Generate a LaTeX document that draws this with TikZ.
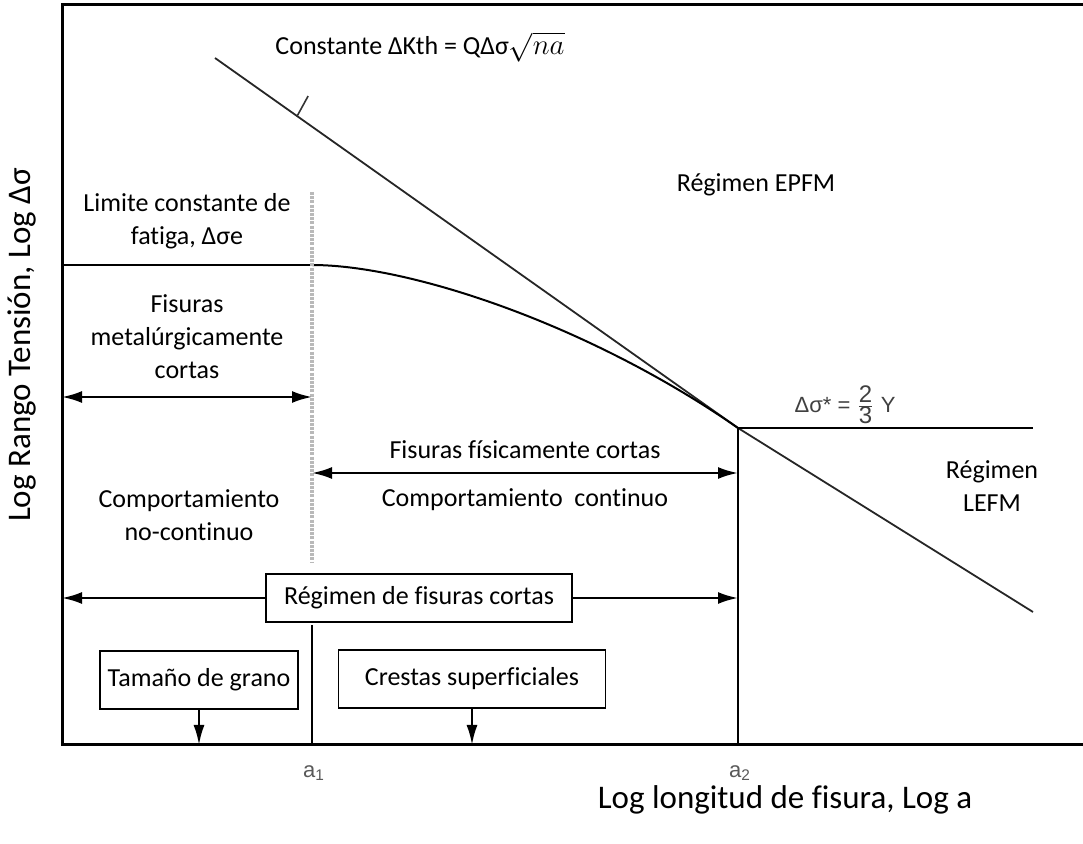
\documentclass[tikz,border=0pt]{standalone}
\usepackage{fontspec}
\setmainfont{Carlito}[Ligatures=NoCommon]
\newfontfamily\arialfont{Liberation Sans}
\usetikzlibrary{arrows.meta,positioning,calc}
\tikzset{
  frameln/.style={line width=1.5pt},
  limitln/.style={line width=1.2pt},
  kthln/.style={line width=0.9pt, black!85},
  curveln/.style={line width=1pt, line join=round},
  a1guide/.style={line width=1.8pt, gray!55, dash pattern=on 1.5pt off 0.6pt},
  spanarr/.style={{Latex[length=10pt,width=6pt]}-{Latex[length=10pt,width=6pt]}, line width=1.2pt},
  downarr/.style={-{Latex[length=10pt,width=5.5pt]}, line width=1.2pt},
  txt/.style={font=\fontsize{13}{16.5}\selectfont, align=center, inner sep=0pt},
  axtxt/.style={font=\fontsize{16.5}{20}\selectfont, inner sep=0pt},
  boxtxt/.style={draw, line width=0.6pt, fill=white, font=\fontsize{13}{16.5}\selectfont,
    inner sep=0pt, minimum height=24pt},
  ticktxt/.style={font=\arialfont\fontsize{11}{13}\selectfont, text=black!65, inner sep=0pt},
}

\begin{document}
\begin{tikzpicture}[x=0.5pt, y=-0.5pt]
  \useasboundingbox (0,0) rectangle (1083,844);
  % frame and fixed points
  \coordinate (tl) at (62,5);
  \coordinate (bl) at (62,745);
  \coordinate (tr) at (1083,5);
  \coordinate (br) at (1083,745);
  \coordinate (fatstart) at (62,265);
  \coordinate (a1lim) at (312,265);
  \coordinate (a1top) at (312,192);
  \coordinate (a1low) at (312,563);
  \coordinate (a1reg) at (312,625);
  \coordinate (a1ax) at (312,745);
  \coordinate (a2knee) at (738,428);
  \coordinate (a2ax) at (738,745);
  \coordinate (kthstart) at (215,58);
  \coordinate (lefmend) at (1033,612);
  \coordinate (sigend) at (1033,428);
  \draw[frameln] (tr) -- (tl) -- (bl) -- (br);

  % fatigue limit, threshold line and curve
  \draw[limitln] (fatstart) -- (a1lim);
  \draw[kthln] (kthstart) -- (a2knee) -- (lefmend);
  \draw[curveln] (a1lim) .. controls (410,265) and (590,325) .. (a2knee);
  \draw[limitln] (a2knee) -- (sigend);
  \draw[line width=1pt] (a2knee) -- (a2ax);
  \draw[a1guide] (a1top) -- (a1low);
  \draw[line width=1pt] (a1reg) -- (a1ax);

  % leader of the threshold label
  \coordinate (kthfoot) at ($(kthstart)!0.157!(a2knee)$);
  \coordinate (kthtip) at ($(kthfoot)+(11,-20)$);
  \draw[line width=0.8pt, black!80] (kthfoot) -- (kthtip);
  \node[txt] (kth) at (420,47) {Constante ΔKth = QΔσ{\fontsize{15}{18}\selectfont$\sqrt{na}$}};

  % region texts
  \node[txt] (fatlim) at (187,221) {Limite constante de\\fatiga, Δσe};
  \node[txt] (metcortas) at (187,337) {Fisuras\\metalúrgicamente\\cortas};
  \node[txt] (nocont) at (189,515) {Comportamiento\\no-continuo};
  \node[txt] (fiscortas) at (525,450) {Fisuras físicamente cortas};
  \node[txt] (cont) at (525,500) {Comportamiento\ \ continuo};
  \node[txt] (epfm) at (756,185) {Régimen EPFM};
  \node[txt] (lefm) at (992,486) {Régimen\\LEFM};
  \node[font=\arialfont\fontsize{11}{13}\selectfont, text=black!75, inner sep=0pt]
    (sigstar) at (845,405) {Δσ* = {\large$\frac{\mbox{\arialfont 2}}{\mbox{\arialfont 3}}$} Y};

  % spans
  \coordinate (mleft) at (62,397);
  \coordinate (mright) at (312,397);
  \draw[spanarr] (mleft) -- (mright);
  \coordinate (fleft) at (312,473);
  \coordinate (fright) at (738,473);
  \draw[spanarr] (fleft) -- (fright);
  \coordinate (rleft) at (62,598);
  \coordinate (rright) at (738,598);
  \draw[spanarr] (rleft) -- (rright);
  \node[boxtxt, minimum width=153pt] (regcortas) at (419,598) {Régimen de fisuras cortas};

  % size scales
  \node[boxtxt, minimum width=99pt, minimum height=29pt] (grano) at (199,680) {Tamaño de grano};
  \node[boxtxt, minimum width=133.5pt, minimum height=29pt] (crestas) at (472,679) {Crestas superficiales};
  \coordinate (granoax) at (grano.south |- bl);
  \coordinate (crestasax) at (crestas.south |- bl);
  \draw[downarr] (grano.south) -- (granoax);
  \draw[downarr] (crestas.south) -- (crestasax);

  % axes
  \node[ticktxt] (lblA1) at (314,773) {a\textsubscript{1}};
  \node[ticktxt] (lblA2) at (740,773) {a\textsubscript{2}};
  \node[axtxt] (xlabel) at (785,800) {Log longitud de fisura, Log a};
  \node[axtxt, rotate=90] (ylabel) at (22,345) {Log Rango Tensión, Log Δσ};
\end{tikzpicture}
\end{document}
